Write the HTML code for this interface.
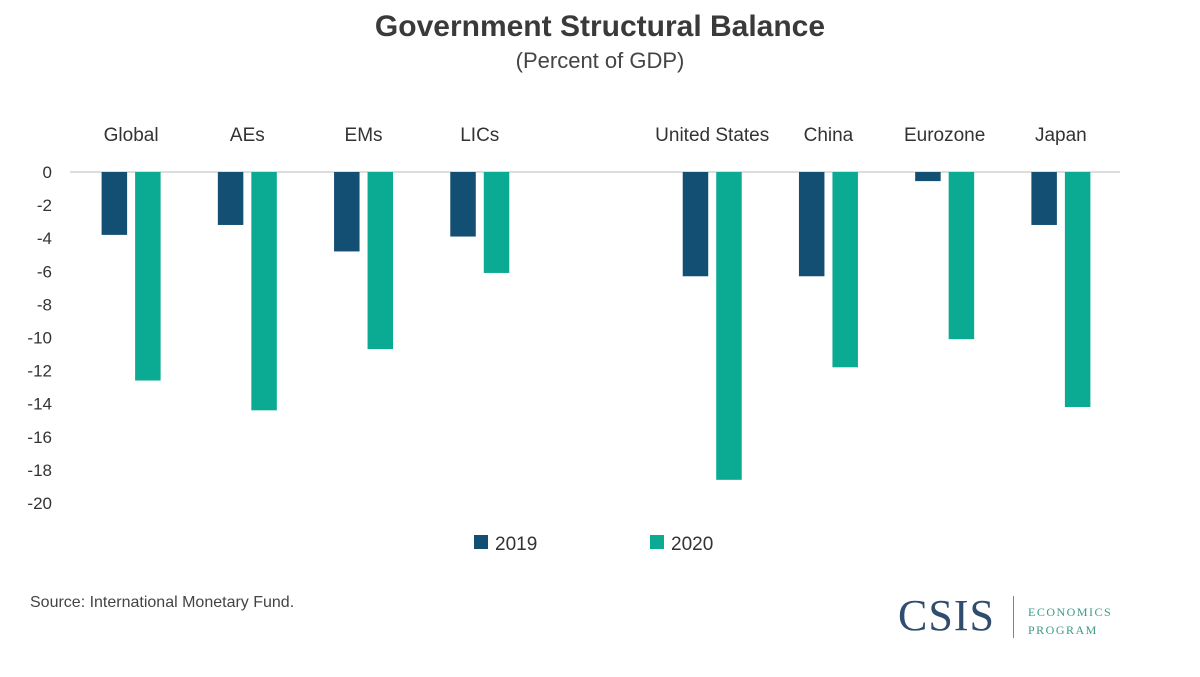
<!DOCTYPE html>
<html><head><meta charset="utf-8">
<style>
body{margin:0;width:1200px;height:677px;background:#fff;font-family:"Liberation Sans",sans-serif;overflow:hidden;position:relative}
.t{position:absolute;left:0;width:1200px;text-align:center;color:#333}
</style></head>
<body>
<div class="t" style="top:10px;font-size:30px;font-weight:bold;color:#3a3a3a">Government Structural Balance</div>
<div class="t" style="top:48px;font-size:22px;color:#444">(Percent of GDP)</div>
<svg id="chart" width="1200" height="677" style="position:absolute;left:0;top:0" font-family="Liberation Sans, sans-serif"></svg>
<div style="position:absolute;left:30px;top:594px;font-size:16px;color:#444">Source: International Monetary Fund.</div>
<div style="position:absolute;left:898px;top:590px;font-family:'Liberation Serif',serif;font-size:44px;color:#2f4d6e;letter-spacing:1px">CSIS</div>
<div style="position:absolute;left:1013px;top:596px;width:1px;height:42px;background:#6a8aa0"></div>
<div style="position:absolute;left:1028px;top:603px;font-family:'Liberation Serif',serif;font-size:12px;letter-spacing:1.5px;color:#3a9a86;line-height:18px">ECONOMICS<br>PROGRAM</div>
<script>
const categories=["Global","AEs","EMs","LICs","","United States","China","Eurozone","Japan"];
const values2019=[-3.8,-3.2,-4.8,-3.9,null,-6.3,-6.3,-0.55,-3.2];
const values2020=[-12.6,-14.4,-10.7,-6.1,null,-18.6,-11.8,-10.1,-14.2];
const yTicks=[0,-2,-4,-6,-8,-10,-12,-14,-16,-18,-20];
const svg=document.getElementById('chart');
const NS='http://www.w3.org/2000/svg';
const x0=73,x1=1119,yTop=172,yBot=503;
const slot=(x1-x0)/categories.length;
function y(v){return yTop+(0-v)/20*(yBot-yTop);}
function cx(i){return x0+slot*(i+0.5);}
function mk(tag,a){const e=document.createElementNS(NS,tag);for(const k in a)e.setAttribute(k,a[k]);svg.appendChild(e);return e;}
yTicks.forEach(t=>{
 const e=mk('text',{x:52,y:y(t)+6,'text-anchor':'end','font-size':17,fill:'#333'});
 e.textContent=t;
 
 
});
const base=mk('line',{x1:70,x2:1120,y1:y(0),y2:y(0),stroke:'#bbb','stroke-width':1});


categories.forEach((c,i)=>{
 if(c){
  const e=mk('text',{x:cx(i),y:141,'text-anchor':'middle','font-size':19,fill:'#333'});
  e.textContent=c;
  
  
 }
 const w=25.5,g=8;
 [[values2019[i],'#134f73',-w-g/2],[values2020[i],'#0bab93',g/2]].forEach(([v,col,off],k)=>{
  if(v==null)return;
  const r=mk('rect',{x:cx(i)+off,y:y(0),width:w,height:y(v)-y(0),fill:col});
  
  
 });
});
[['2019','#134f73',474],['2020','#0bab93',650]].forEach(([l,c,x])=>{
 const r=mk('rect',{x:x,y:535,width:14,height:14,fill:c});
 
 
 const t=mk('text',{x:x+21,y:550,'font-size':19,fill:'#333'});
 t.textContent=l;
 
 
});
</script>
</body></html>
